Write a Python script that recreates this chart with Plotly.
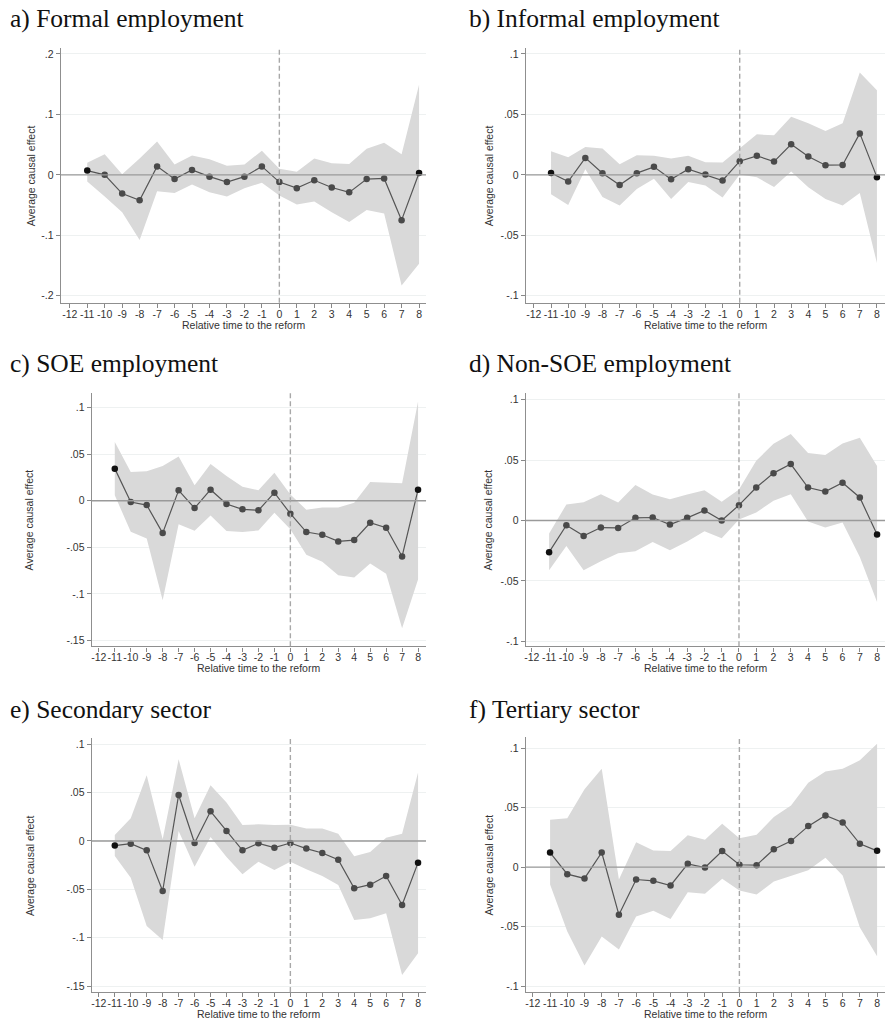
import plotly.graph_objects as go

# Event-time grid (years relative to the reform)
periods = list(range(-11, 9))
xtick_vals = list(range(-12, 9))

# a) Formal employment
formal_est = [0.007, 0.0, -0.031, -0.042, 0.014, -0.007, 0.008, -0.003, -0.012, -0.003,
              0.014, -0.012, -0.022, -0.009, -0.021, -0.029, -0.007, -0.006, -0.075, 0.003]
formal_hi = [0.020, 0.034, 0.001, 0.027, 0.055, 0.017, 0.032, 0.026, 0.015, 0.017,
             0.040, 0.010, 0.005, 0.027, 0.019, 0.018, 0.043, 0.053, 0.034, 0.149]
formal_lo = [-0.011, -0.036, -0.062, -0.108, -0.027, -0.030, -0.016, -0.029, -0.036, -0.022,
             -0.013, -0.034, -0.049, -0.044, -0.062, -0.078, -0.058, -0.064, -0.183, -0.147]

# b) Informal employment
informal_est = [0.0016, -0.0055, 0.014, 0.0014, -0.0085, 0.0014, 0.0066, -0.0036, 0.0047, 0.0003,
                -0.0047, 0.0113, 0.0157, 0.011, 0.0253, 0.0151, 0.008, 0.0082, 0.0343, -0.0019]
informal_hi = [0.0195, 0.0146, 0.023, 0.0217, 0.0088, 0.0162, 0.0159, 0.0135, 0.0159, 0.0104,
               0.0102, 0.022, 0.0335, 0.0327, 0.048, 0.0426, 0.0363, 0.0426, 0.0846, 0.070]
informal_lo = [-0.016, -0.025, 0.0047, -0.0184, -0.0253, -0.0118, -0.0033, -0.020, -0.006, -0.0088,
               -0.0187, 0.0003, -0.002, -0.010, 0.0027, -0.0102, -0.020, -0.0253, -0.015, -0.073]

# c) SOE employment
soe_est = [0.0344, -0.0014, -0.0047, -0.0348, 0.0111, -0.0079, 0.0118, -0.0036, -0.0093, -0.0104,
           0.0086, -0.014, -0.0337, -0.0366, -0.0437, -0.0423, -0.0237, -0.029, -0.0599, 0.0118]
soe_hi = [0.063, 0.0308, 0.0315, 0.0373, 0.0473, 0.0165, 0.0394, 0.0265, 0.015, 0.0111,
          0.0301, 0.0065, -0.0097, -0.0072, -0.0072, -0.0022, 0.020, 0.0197, 0.0186, 0.1065]
soe_lo = [0.0057, -0.0333, -0.0405, -0.107, -0.0254, -0.0323, -0.0158, -0.0326, -0.0337, -0.0319,
          -0.0129, -0.0308, -0.058, -0.0656, -0.080, -0.0824, -0.0674, -0.0785, -0.137, -0.0846]

# d) Non-SOE employment
nonsoe_est = [-0.0262, -0.0039, -0.0127, -0.0058, -0.0061, 0.0022, 0.0025, -0.0033, 0.0022, 0.0083,
              0.0, 0.0127, 0.0273, 0.0392, 0.0467, 0.0273, 0.024, 0.0312, 0.0191, -0.0116]
nonsoe_hi = [-0.0108, 0.0133, 0.0152, 0.0218, 0.0149, 0.0293, 0.0215, 0.0177, 0.0215, 0.0251,
             0.0155, 0.0257, 0.0494, 0.0635, 0.0715, 0.0558, 0.0541, 0.0638, 0.0685, 0.045]
nonsoe_lo = [-0.0412, -0.021, -0.0412, -0.0337, -0.0271, -0.0254, -0.0177, -0.0246, -0.0174, -0.0088,
             -0.0146, 0.0008, 0.0066, 0.0163, 0.0218, -0.0008, -0.0058, -0.0017, -0.0301, -0.0674]

# e) Secondary sector
secondary_est = [-0.0048, -0.0028, -0.0097, -0.0517, 0.0476, -0.0021, 0.0307, 0.0103, -0.0097, -0.0024,
                 -0.0069, -0.0021, -0.0079, -0.0124, -0.0193, -0.049, -0.0452, -0.0362, -0.0662, -0.0224]
secondary_hi = [0.0062, 0.0234, 0.068, 0.0017, 0.0845, 0.0234, 0.0576, 0.0397, 0.0166, 0.0172,
                0.0166, 0.0169, 0.0128, 0.0128, 0.0076, -0.0159, -0.0114, 0.0034, 0.0076, 0.0707]
secondary_lo = [-0.0155, -0.038, -0.088, -0.1024, 0.0103, -0.0266, 0.0041, -0.0166, -0.0345, -0.0214,
                -0.030, -0.0214, -0.0293, -0.0362, -0.0455, -0.0817, -0.080, -0.0748, -0.1386, -0.1162]

# f) Tertiary sector
tertiary_est = [0.0123, -0.0059, -0.0095, 0.0123, -0.0401, -0.0104, -0.0115, -0.0154, 0.0028, -0.0003,
                0.0135, 0.002, 0.0017, 0.0151, 0.0219, 0.0345, 0.0435, 0.0376, 0.0196, 0.0137]
tertiary_hi = [0.0398, 0.0412, 0.0654, 0.0827, -0.0104, 0.021, 0.014, 0.0135, 0.0269, 0.023,
               0.0365, 0.0244, 0.0272, 0.0421, 0.0519, 0.071, 0.0805, 0.0827, 0.0898, 0.1038]
tertiary_lo = [-0.0146, -0.0541, -0.0827, -0.0583, -0.0693, -0.0415, -0.0367, -0.0435, -0.021, -0.0224,
               -0.0098, -0.0196, -0.023, -0.0121, -0.007, -0.0025, 0.0079, -0.007, -0.0508, -0.0749]

titles = ["a) Formal employment", "b) Informal employment", "c) SOE employment",
          "d) Non-SOE employment", "e) Secondary sector", "f) Tertiary sector"]
series = [(formal_est, formal_hi, formal_lo), (informal_est, informal_hi, informal_lo),
          (soe_est, soe_hi, soe_lo), (nonsoe_est, nonsoe_hi, nonsoe_lo),
          (secondary_est, secondary_hi, secondary_lo), (tertiary_est, tertiary_hi, tertiary_lo)]
ytick_sets = [[-0.2, -0.1, 0, 0.1, 0.2], [-0.1, -0.05, 0, 0.05, 0.1],
              [-0.15, -0.1, -0.05, 0, 0.05, 0.1], [-0.1, -0.05, 0, 0.05, 0.1],
              [-0.15, -0.1, -0.05, 0, 0.05, 0.1], [-0.1, -0.05, 0, 0.05, 0.1]]

W, H = 885, 1023
# per panel: plot box in pixels (left, right, top, bottom), x range, y range
panel_box = [(59, 425, 48, 303), (525, 885, 48, 303),
             (90, 425, 393, 647), (525, 885, 393, 647),
             (90, 425, 739, 993), (525, 885, 738, 993)]
panel_xrange = [(-12.51, 8.4), (-12.47, 8.47), (-12.44, 8.5),
                (-12.35, 8.46), (-12.44, 8.5), (-12.41, 8.46)]
panel_yrange = [(-0.2116, 0.21), (-0.1058, 0.105), (-0.1564, 0.116),
                (-0.1041, 0.1058), (-0.1562, 0.1062), (-0.105, 0.1092)]
title_pos = [(6, 19), (466, 19), (6, 364), (466, 364), (6, 710), (466, 710)]
ytitle_x = [29, 488, 28, 488, 28, 488]

def tick_text(v):
    if v == 0:
        return "0"
    s = ("%g" % v)
    return s.replace("0.", ".")

SANS = "Liberation Sans, Arial, sans-serif"
SERIF = "Liberation Serif, Times New Roman, serif"

fig = go.Figure()
annotations = []
shapes = []
layout_axes = {}

for i, (title, (est, hi, lo)) in enumerate(zip(titles, series)):
    n = i + 1
    xa = "x" if n == 1 else f"x{n}"
    ya = "y" if n == 1 else f"y{n}"
    l, r, t, b = panel_box[i]

    # confidence band
    fig.add_trace(go.Scatter(
        x=periods + periods[::-1], y=hi + lo[::-1], xaxis=xa, yaxis=ya,
        fill="toself", fillcolor="rgb(217,217,217)", line=dict(width=0),
        mode="lines", hoverinfo="skip", showlegend=False))
    # point estimates
    mcol = ["#111111"] + ["#4a4a4a"] * (len(periods) - 2) + ["#111111"]
    fig.add_trace(go.Scatter(
        x=periods, y=est, xaxis=xa, yaxis=ya, mode="lines+markers",
        line=dict(color="#555555", width=1.2),
        marker=dict(color=mcol, size=6.5), showlegend=False))

    layout_axes[f"xaxis{'' if n == 1 else n}"] = dict(
        domain=[l / W, r / W], range=list(panel_xrange[i]), anchor=ya,
        tickvals=xtick_vals, ticktext=[str(v) for v in xtick_vals], tickangle=0,
        ticks="outside", ticklen=4, tickwidth=1, tickcolor="#888888",
        ticklabelstandoff=-3,
        showline=True, linecolor="#8f8f8f", linewidth=1.4,
        showgrid=False, zeroline=False,
        tickfont=dict(family=SANS, size=10.5, color="#333333"))
    ts = ytick_sets[i]
    layout_axes[f"yaxis{'' if n == 1 else n}"] = dict(
        domain=[1 - b / H, 1 - t / H], range=list(panel_yrange[i]), anchor=xa,
        tickvals=ts, ticktext=[tick_text(v) for v in ts],
        ticks="outside", ticklen=4, tickwidth=1, tickcolor="#888888",
        showline=True, linecolor="#8f8f8f", linewidth=1.4,
        showgrid=True, gridcolor="#eef1f1", gridwidth=1, zeroline=False,
        tickfont=dict(family=SANS, size=10.5, color="#333333"))

    # reference lines
    shapes.append(dict(type="line", xref=f"{xa} domain", yref=ya, x0=0, x1=1, y0=0, y1=0,
                       line=dict(color="#9a9a9a", width=1.4), layer="above"))
    shapes.append(dict(type="line", xref=xa, yref=f"{ya} domain", x0=0, x1=0, y0=0, y1=1,
                       line=dict(color="#a8a8a8", width=1.4, dash="5px,3px"), layer="above"))

    # panel title
    tx, ty = title_pos[i]
    annotations.append(dict(text=title, xref="paper", yref="paper", x=tx / W, y=1 - ty / H,
                            xanchor="left", yanchor="middle", showarrow=False,
                            font=dict(family=SERIF, size=25.5, color="#111111")))
    # axis titles
    annotations.append(dict(text="Relative time to the reform", xref="paper", yref="paper",
                            x=(l + r) / 2 / W, y=1 - (b + 22) / H, xanchor="center",
                            yanchor="middle", showarrow=False,
                            font=dict(family=SANS, size=10.5, color="#333333")))
    annotations.append(dict(text="Average causal effect", xref="paper", yref="paper",
                            x=ytitle_x[i] / W, y=1 - (t + b) / 2 / H, xanchor="center",
                            yanchor="middle", textangle=-90, showarrow=False,
                            font=dict(family=SANS, size=10.5, color="#333333")))

fig.update_layout(
    width=W, height=H, margin=dict(l=0, r=0, t=0, b=0),
    paper_bgcolor="white", plot_bgcolor="white",
    annotations=annotations, shapes=shapes, **layout_axes)

fig.write_html("out.html")
